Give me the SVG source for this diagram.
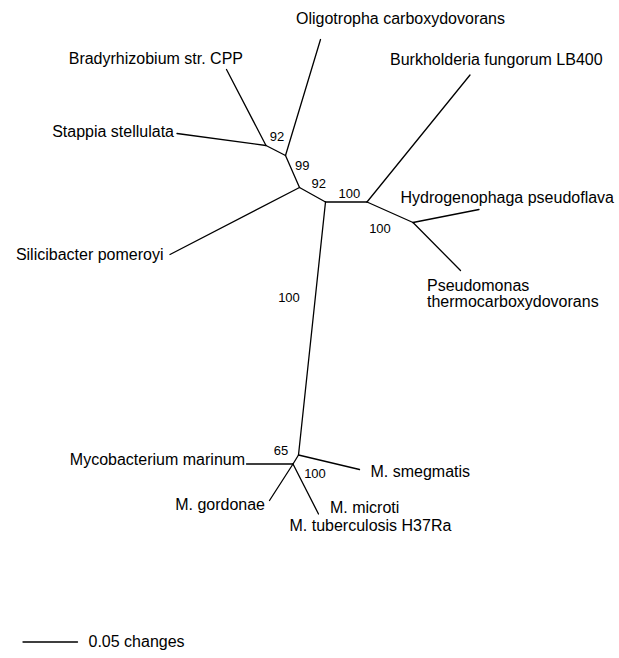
<svg xmlns="http://www.w3.org/2000/svg" width="619" height="658" viewBox="0 0 619 658">
<style>
.e{fill:none;stroke:#000;stroke-width:1.3;stroke-linecap:round;stroke-linejoin:round}
.t{font-family:"Liberation Sans",Arial,sans-serif;font-size:16px;fill:#000}
.b{font-family:"Liberation Sans",Arial,sans-serif;font-size:13px;fill:#000;text-anchor:middle}
.r{text-anchor:end}
</style>
<rect width="619" height="658" fill="#fff"/>
<g id="connectors">
<path class="e" d="M226.5,69.5 L266,145.5"/>
<path class="e" d="M177,133.5 L266,145.5"/>
<path class="e" d="M266,145.5 L285.5,155.5"/>
<path class="e" d="M320.5,39.5 L285.5,155.5"/>
<path class="e" d="M285.5,155.5 L299.5,187.5"/>
<path class="e" d="M170,254.5 L299.5,187.5"/>
<path class="e" d="M299.5,187.5 L325.5,202"/>
<path class="e" d="M325.5,202 L367,202"/>
<path class="e" d="M367,202 L470,75"/>
<path class="e" d="M367,202 L413,222.5"/>
<path class="e" d="M413,222.5 L479,209.5"/>
<path class="e" d="M413,222.5 L460.5,270.5"/>
<path class="e" d="M325.5,202 L298.5,455"/>
<path class="e" d="M298.5,455 L359.5,469.5"/>
<path class="e" d="M298.5,455 L293,464"/>
<path class="e" d="M246.5,464 L293,464"/>
<path class="e" d="M293,464 L269.5,500.5"/>
<path class="e" d="M293,464 L318.5,514"/>
<path class="e" d="M23,642 L77.5,642"/>
</g>
<g id="bootstrap">
<text class="b" x="277" y="140.7">92</text>
<text class="b" x="302.3" y="170.4">99</text>
<text class="b" x="318.8" y="187.5">92</text>
<text class="b" x="349.3" y="198.4">100</text>
<text class="b" x="380" y="233">100</text>
<text class="b" x="289" y="301.7">100</text>
<text class="b" x="281" y="454.7">65</text>
<text class="b" x="315" y="478">100</text>
</g>
<g id="n-oligotropha"><text class="t" x="296" y="24">Oligotropha carboxydovorans</text></g>
<g id="n-bradyrhizobium"><text class="t r" x="243" y="64">Bradyrhizobium str. CPP</text></g>
<g id="n-burkholderia"><text class="t" x="390" y="65">Burkholderia fungorum LB400</text></g>
<g id="n-stappia"><text class="t r" x="174" y="136.5">Stappia stellulata</text></g>
<g id="n-hydrogenophaga"><text class="t" x="400.5" y="203">Hydrogenophaga pseudoflava</text></g>
<g id="n-silicibacter"><text class="t r" x="163.5" y="260">Silicibacter pomeroyi</text></g>
<g id="n-pseudomonas"><text class="t" x="427" y="291">Pseudomonas</text><text class="t" x="427" y="307">thermocarboxydovorans</text></g>
<g id="n-marinum"><text class="t r" x="245" y="465">Mycobacterium marinum</text></g>
<g id="n-smegmatis"><text class="t" x="370.5" y="476.5">M. smegmatis</text></g>
<g id="n-gordonae"><text class="t r" x="265" y="510">M. gordonae</text></g>
<g id="n-microti"><text class="t" x="330" y="513">M. microti</text></g>
<g id="n-tuberculosis"><text class="t" x="289.5" y="531">M. tuberculosis H37Ra</text></g>
<g id="scale"><text class="t" x="88.5" y="647">0.05 changes</text></g>
</svg>
